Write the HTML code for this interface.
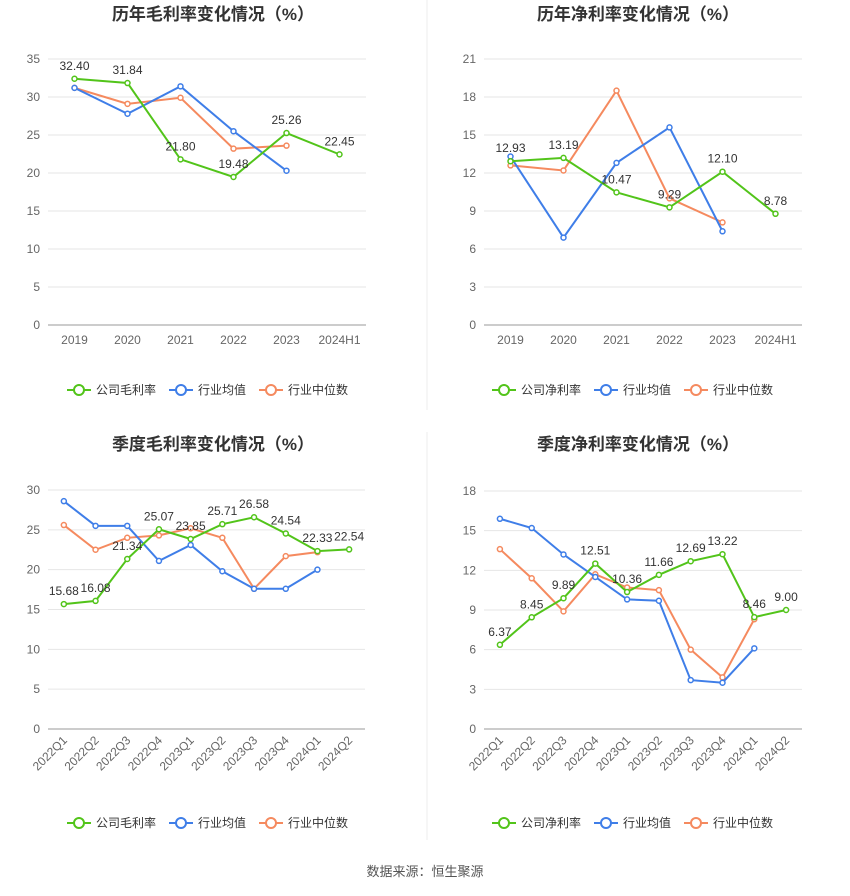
<!DOCTYPE html>
<html><head><meta charset="utf-8">
<style>
body{margin:0;background:#fff;font-family:"Liberation Sans","Noto Sans CJK SC",sans-serif;}
#root{position:relative;width:850px;height:891px;}
svg text{font-family:"Liberation Sans","Noto Sans CJK SC",sans-serif;}
</style></head>
<body>
<div id="root">
<svg id="svg" width="850" height="891">
<line x1="427" y1="0" x2="427" y2="410" stroke="#eee"/>
<line x1="427" y1="432" x2="427" y2="840" stroke="#eee"/>
<text x="425" y="876" text-anchor="middle" font-size="13" fill="#555">数据来源：恒生聚源</text>
</svg>
</div>
<script>
const catsYear=["2019","2020","2021","2022","2023","2024H1"];
const catsQ=["2022Q1","2022Q2","2022Q3","2022Q4","2023Q1","2023Q2","2023Q3","2023Q4","2024Q1","2024Q2"];
const gmCompany=[32.40,31.84,21.80,19.48,25.26,22.45];
const gmAvg=[31.2,27.8,31.4,25.5,20.3];
const gmMed=[31.2,29.1,29.9,23.2,23.6];
const npCompany=[12.93,13.19,10.47,9.29,12.10,8.78];
const npAvg=[13.3,6.9,12.8,15.6,7.4];
const npMed=[12.6,12.2,18.5,10.0,8.1];
const qgmCompany=[15.68,16.08,21.34,25.07,23.85,25.71,26.58,24.54,22.33,22.54];
const qgmAvg=[28.6,25.5,25.5,21.1,23.1,19.8,17.6,17.6,20.0];
const qgmMed=[25.6,22.5,24.0,24.3,25.2,24.0,17.6,21.7,22.2];
const qnpCompany=[6.37,8.45,9.89,12.51,10.36,11.66,12.69,13.22,8.46,9.00];
const qnpAvg=[15.9,15.2,13.2,11.5,9.8,9.7,3.7,3.5,6.1];
const qnpMed=[13.6,11.4,8.9,11.7,10.7,10.5,6.0,3.9,8.3];
const ticksGm=[0,5,10,15,20,25,30,35];
const ticksNp=[0,3,6,9,12,15,18,21];
const ticksQgm=[0,5,10,15,20,25,30];
const ticksQnp=[0,3,6,9,12,15,18];

const NS="http://www.w3.org/2000/svg";
const svg=document.getElementById('svg');
function mk(tag,attrs,parent){const e=document.createElementNS(NS,tag);for(const k in attrs)e.setAttribute(k,attrs[k]);(parent||svg).appendChild(e);return e;}
const GREEN="#52c41a",BLUE="#3f7ee8",ORANGE="#f58a5f";

function chart(o){
  const g=mk('g',{});
  
  
  const t=mk('text',{x:o.cx,y:o.titleY,'text-anchor':'middle','font-size':17,'font-weight':'bold',fill:'#333'},g);
  t.textContent=o.title;
  
  
  const max=o.ticks[o.ticks.length-1];
  const y=v=>o.y0-(v/max)*(o.y0-o.yTop);
  const step=(o.x1-o.x0)/o.cats.length;
  const x=i=>o.x0+step*(i+0.5);
  o.ticks.forEach(v=>{
    const l=mk('line',{x1:o.x0,x2:o.x1,y1:y(v),y2:y(v),stroke:v===0?'#999':'#e6e6e6'},g);
    
    
    const tx=mk('text',{x:o.x0-8,y:y(v)+4,'text-anchor':'end','font-size':12,fill:'#666'},g);
    tx.textContent=v;
    
    
  });
  o.cats.forEach((c,i)=>{
    const tx=mk('text',{'font-size':12,fill:'#666'},g);
    tx.textContent=c;
    if(o.rotate){tx.setAttribute('text-anchor','end');tx.setAttribute('transform',`translate(${x(i)+4},${o.y0+12}) rotate(-45)`);}
    else{tx.setAttribute('text-anchor','middle');tx.setAttribute('x',x(i));tx.setAttribute('y',o.y0+19);}
    
    
  });
  const series=[[o.med,ORANGE,'industry-median-line'],[o.avg,BLUE,'industry-average-line'],[o.comp,GREEN,'company-line']];
  series.forEach(([d,col,nm])=>{
    const pts=d.map((v,i)=>x(i)+','+y(v)).join(' ');
    const pl=mk('polyline',{points:pts,fill:'none',stroke:col,'stroke-width':2},g);
    
    
    d.forEach((v,i)=>{
      const c=mk('circle',{cx:x(i),cy:y(v),r:2.5,fill:'#fff',stroke:col,'stroke-width':1.5},g);
      
      
    });
  });
  o.comp.forEach((v,i)=>{
    const tx=mk('text',{x:x(i),y:y(v)-9,'text-anchor':'middle','font-size':12,fill:'#333'},g);
    tx.textContent=v.toFixed(2);
    
    
  });
  const items=[[o.leg1,GREEN],['行业均值',BLUE],['行业中位数',ORANGE]];
  let lx=o.cx-146;
  items.forEach(([lab,col],k)=>{
    const lg=mk('g',{},g);
    
    
    mk('line',{x1:lx,x2:lx+24,y1:o.legY,y2:o.legY,stroke:col,'stroke-width':2},lg);
    mk('circle',{cx:lx+12,cy:o.legY,r:5,fill:'#fff',stroke:col,'stroke-width':2},lg);
    const tx=mk('text',{x:lx+29,y:o.legY+4,'font-size':12,fill:'#333'},lg);
    tx.textContent=lab;
    lx+=k===0?102:90;
  });
}
chart({name:'annual-gross-margin-chart',title:'历年毛利率变化情况（%）',cx:213,titleY:20,cats:catsYear,comp:gmCompany,avg:gmAvg,med:gmMed,ticks:ticksGm,x0:48,x1:366,y0:325,yTop:59,legY:390,leg1:'公司毛利率'});
chart({name:'annual-net-margin-chart',title:'历年净利率变化情况（%）',cx:638,titleY:20,cats:catsYear,comp:npCompany,avg:npAvg,med:npMed,ticks:ticksNp,x0:484,x1:802,y0:325,yTop:59,legY:390,leg1:'公司净利率'});
chart({name:'quarterly-gross-margin-chart',title:'季度毛利率变化情况（%）',cx:213,titleY:450,cats:catsQ,comp:qgmCompany,avg:qgmAvg,med:qgmMed,ticks:ticksQgm,x0:48,x1:365,y0:729,yTop:490,legY:823,leg1:'公司毛利率',rotate:true});
chart({name:'quarterly-net-margin-chart',title:'季度净利率变化情况（%）',cx:638,titleY:450,cats:catsQ,comp:qnpCompany,avg:qnpAvg,med:qnpMed,ticks:ticksQnp,x0:484,x1:802,y0:729,yTop:491,legY:823,leg1:'公司净利率',rotate:true});
</script>
</body></html>
